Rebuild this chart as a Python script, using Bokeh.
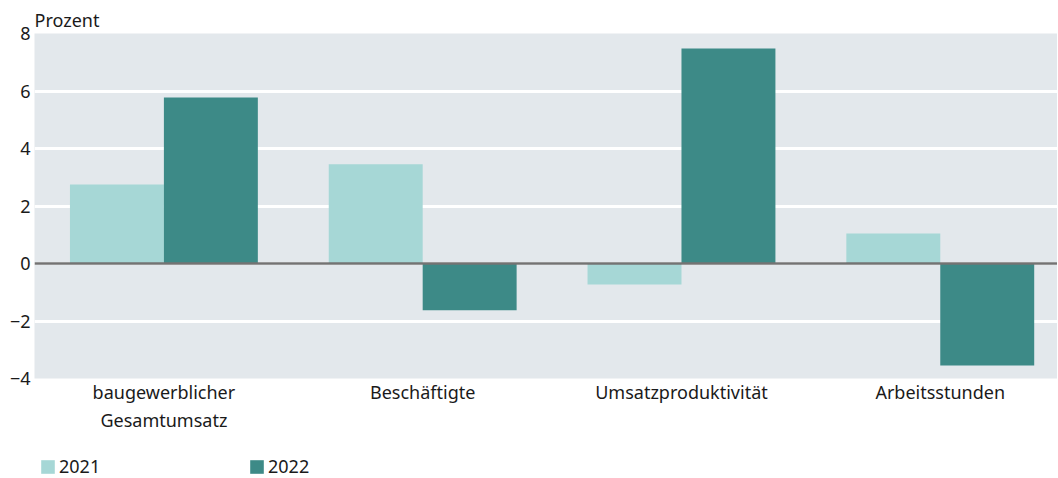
from bokeh.plotting import figure
from bokeh.models import Span, Legend, LegendItem, FixedTicker, Range1d
from bokeh.layouts import column
from bokeh.embed import file_html
from bokeh.resources import INLINE
import numpy as np

categories = ["baugewerblicher\nGesamtumsatz", "Beschäftigte", "Umsatzproduktivität", "Arbeitsstunden"]
values_2021 = [2.75, 3.45, -0.73, 1.04]
values_2022 = [5.77, -1.63, 7.48, -3.55]
series_names = ["2021", "2022"]
y_ticks = [-4, -2, 0, 2, 4, 6, 8]

FONT = "Noto Sans"
FS = "18px"
TXT = "#1a1a1a"
C2021 = "#a6d7d6"
C2022 = "#3d8a87"

xc = np.arange(len(categories))
bw = 0.363
XEND = 3.453

p = figure(width=1057, height=440, output_backend="svg", toolbar_location=None,
           x_range=Range1d(-0.5, XEND), y_range=Range1d(-4, 8),
           min_border_left=34, min_border_right=0, min_border_top=33, min_border_bottom=62)
p.background_fill_color = "#e3e8ec"
p.outline_line_color = None
p.border_fill_color = "white"

r1 = p.vbar(x=xc - bw / 2, top=values_2021, bottom=0, width=bw, color=C2021, line_color=None)
r2 = p.vbar(x=xc + bw / 2, top=values_2022, bottom=0, width=bw, color=C2022, line_color=None)

p.add_layout(Span(location=0, dimension="width", line_color="#737373", line_width=2.5))

p.xgrid.grid_line_color = None
p.ygrid.grid_line_color = "white"
p.ygrid.grid_line_width = 3
p.ygrid.level = "image"

p.yaxis.ticker = FixedTicker(ticks=y_ticks)
p.yaxis.major_label_overrides = {t: (str(t).replace("-", "\u2212")) for t in y_ticks}
p.xaxis.ticker = FixedTicker(ticks=list(xc))
p.xaxis.major_label_overrides = {int(i): c for i, c in zip(xc, categories)}

for ax in (p.xaxis[0], p.yaxis[0]):
    ax.axis_line_color = None
    ax.major_tick_line_color = None
    ax.minor_tick_line_color = None
    ax.major_tick_out = 0
    ax.major_tick_in = 0
    ax.major_label_text_font = FONT
    ax.major_label_text_font_size = FS
    ax.major_label_text_color = TXT
p.yaxis.major_label_standoff = 4
p.xaxis.major_label_standoff = 1

p.title.text = "Prozent"
p.title.text_font = FONT
p.title.text_font_size = FS
p.title.text_font_style = "normal"
p.title.text_color = TXT
p.title.align = "left"
p.title.offset = 0
p.title.standoff = 4

# legend strip below the chart (bars drawn far outside its visible y-range)
lg = figure(width=1057, height=38, output_backend="svg", toolbar_location=None,
            x_range=Range1d(-0.5, XEND), y_range=Range1d(100, 101),
            x_axis_location=None, y_axis_location=None,
            min_border=0, outline_line_color=None)
lg.grid.visible = False
lg.background_fill_color = "white"
lr1 = lg.vbar(x=xc - bw / 2, top=values_2021, bottom=0, width=bw, color=C2021, line_color=None)
lr2 = lg.vbar(x=xc + bw / 2, top=values_2022, bottom=0, width=bw, color=C2022, line_color=None)
legend = Legend(items=[LegendItem(label=series_names[0], renderers=[lr1]),
                       LegendItem(label=series_names[1], renderers=[lr2])],
                orientation="horizontal", location=(5, 0),
                label_text_font=FONT, label_text_font_size=FS, label_text_color=TXT,
                glyph_width=17, glyph_height=17, label_width=178, label_height=17,
                spacing=11, padding=0, margin=0, border_line_color=None,
                background_fill_alpha=0, label_standoff=3)
lg.add_layout(legend)

open("out.html", "w").write(file_html(column(p, lg, spacing=0), INLINE))
